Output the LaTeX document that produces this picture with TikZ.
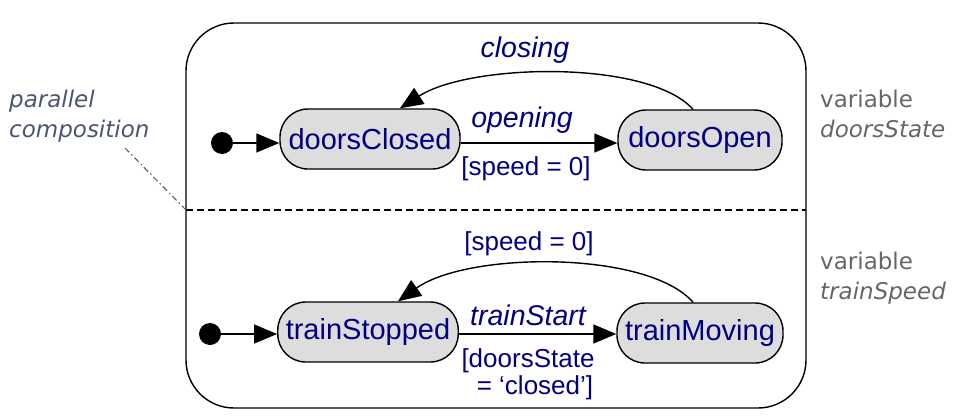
\documentclass[tikz,border=0pt]{standalone}
\usepackage{fontspec}
\setmainfont{Liberation Sans}
\newfontfamily\notefont{DejaVu Sans}
\usetikzlibrary{arrows.meta}
\definecolor{navy}{HTML}{000080}
\definecolor{slate}{HTML}{4A5670}
\definecolor{vargrey}{HTML}{666666}
\definecolor{stfill}{HTML}{DDDDDD}
\tikzset{
  statebox/.style={draw=black, line width=1.4pt, fill=stfill, rounded corners=28pt,
    minimum height=60pt, inner xsep=8pt, text=navy, font=\fontsize{29}{33}\selectfont},
  trans/.style={line width=1.4pt, -{Triangle[length=23pt,width=19pt]}},
  tlabel/.style={text=navy, font=\fontsize{26}{29}\selectfont, inner sep=0pt},
  ilabel/.style={text=navy, font=\fontsize{28.5}{32}\selectfont\itshape, inner sep=0pt},
  initdot/.style={circle, fill=black, inner sep=0pt, minimum size=22pt},
  note/.style={font=\notefont\fontsize{23}{32}\selectfont, align=left, inner sep=0pt, anchor=west},
}
\begin{document}
\begin{tikzpicture}[x=1pt,y=-1pt]
\useasboundingbox (0,0) rectangle (979,415);
% outer composite state
\draw[line width=1.4pt, rounded corners=48pt] (186,23) rectangle (806,408);
\coordinate (divL) at (186,210);
\coordinate (divR) at (806,210);
\draw[line width=1.4pt, dashed, dash pattern=on 7pt off 4pt] (divL) -- (divR);

% upper region
\node[initdot] (i1) at (222,143) {};
\node[statebox, minimum width=180pt] (dC) at (370,139) {doorsClosed};
\node[statebox, minimum width=164pt] (dO) at (700,140) {doorsOpen};
\draw[trans] (i1) -- (dC.west |- i1);
\draw[trans] (dC.east |- 0,143) -- (dO.west |- 0,143);
\draw[trans] ([xshift=-7pt]dO.north) .. controls +(-45,-50) and +(70,-45) .. ([xshift=30pt]dC.north);
\node[ilabel] (lopen) at (522,120) {opening};
\node[tlabel] (lsp1) at (526,169) {[speed = 0]};
\node[ilabel] (lclose) at (525,50) {closing};

% lower region
\node[initdot] (i2) at (210,334) {};
\node[statebox, minimum width=180pt] (tS) at (368,332) {trainStopped};
\node[statebox, minimum width=166pt] (tM) at (700,333) {trainMoving};
\draw[trans] (i2) -- (tS.west |- i2);
\draw[trans] (tS.east |- 0,334) -- (tM.west |- 0,334);
\draw[trans] ([xshift=-7pt]tM.north) .. controls +(-45,-52) and +(70,-50) .. ([xshift=30pt]tS.north);
\node[ilabel] (lstart) at (528,315) {trainStart};
\node[tlabel] (lds) at (528,361) {[doorsState};
\node[tlabel] (lcl) at (535,388) {= ‘closed’]};
\node[tlabel] (lsp2) at (529,244) {[speed = 0]};

% annotations
\node[note, text=slate] (pc) at (9,116) {\itshape parallel\\[-2pt]\itshape composition};
\coordinate (pcend) at (125,148);
\draw[slate, line width=1pt, dash pattern=on 6pt off 3pt on 1.5pt off 3pt] (pcend) -- (divL);
\node[note, text=vargrey] (v1) at (820,114) {variable\\[-2pt]\itshape doorsState};
\node[note, text=vargrey] (v2) at (820,278) {variable\\[-2pt]\itshape trainSpeed};
\end{tikzpicture}
\end{document}
